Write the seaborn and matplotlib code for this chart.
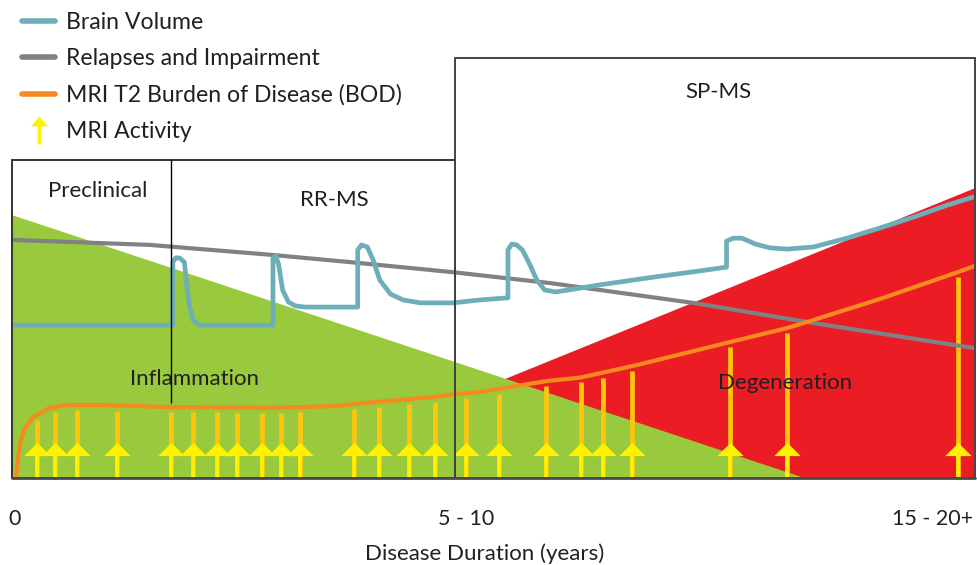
import numpy as np
import pandas as pd
import matplotlib.pyplot as plt
import seaborn as sns
from matplotlib.patches import Polygon, Rectangle
from matplotlib.path import Path
from matplotlib.lines import Line2D

# schematic units: x and y both run 0-100 across the drawing area
relapse_x = [0, 14.3, 27.1, 35.1, 45.8, 55.9, 70.7, 83.2, 100]
relapse_y = [56.7, 55.5, 53.1, 51.4, 49.0, 46.4, 41.7, 36.9, 30.9]

brain_x = [0, 16.7, 16.7, 17.0, 17.4, 17.9, 18.1, 18.4, 18.8, 19.5,
           27.1, 27.1, 27.4, 27.7, 28.1, 28.7, 29.4, 30.4,
           35.9, 35.9, 36.3, 36.9, 37.5, 38.2, 39.3, 40.6, 42.4, 45.8, 48.6,
           51.5, 51.5, 51.9, 52.4, 53.0, 53.8, 54.5, 55.3, 56.4, 57.9, 61.1, 65.9, 71.4,
           74.2, 74.2, 74.9, 75.8, 77.2, 78.7, 80.5, 83.2, 86.7, 90.1, 93.6, 96.9, 99.8]
brain_y = [36.4, 36.4, 51.4, 52.4, 52.4, 51.4, 47.1, 41.2, 37.6, 36.4,
           36.4, 52.4, 52.9, 50.7, 44.8, 41.9, 41.0, 40.7,
           40.7, 54.3, 55.5, 55.0, 51.9, 47.1, 43.8, 42.4, 41.7, 41.7, 42.4,
           42.9, 54.3, 55.7, 55.5, 54.3, 50.7, 47.1, 44.8, 44.3, 44.8, 46.0, 47.6, 49.3,
           50.2, 56.4, 57.1, 57.1, 55.7, 54.8, 54.5, 55.0, 57.1, 59.5, 62.1, 64.8, 66.9]

bod_x = [0.4, 0.6, 0.9, 1.35, 2.2, 3.9, 5.7, 9.1, 16.1, 26.5, 33.3, 36.9, 43.7, 46.2,
         48.6, 55.6, 59.0, 64.9, 74.6, 80.5, 83.2, 90.1, 98.2, 100]
bod_y = [0, 4.3, 9.0, 11.9, 14.5, 16.7, 17.4, 17.4, 16.9, 16.7, 17.1, 17.9, 19.3, 20.0,
         20.5, 23.1, 23.9, 26.9, 32.4, 35.7, 37.6, 42.6, 49.0, 50.5]

activity_x = [2.6, 4.5, 6.75, 10.9, 16.5, 18.8, 21.3, 23.4, 26.0, 27.9, 29.9,
              35.5, 38.1, 41.2, 43.9, 47.1, 50.6, 55.5, 59.1, 61.4, 64.4,
              74.6, 80.5, 98.2]

inflammation_x = [0, 0, 82.3]
inflammation_y = [0, 62.6, 0]
degeneration_x = [25.9, 100, 100]
degeneration_y = [0, 69.0, 0]

tick_pos = [0.3, 47.2, 95.6]
tick_labels = ['0', '5 - 10', '15 - 20+']

c_teal = '#6eaeb8'
c_gray = '#808184'
c_orange = '#f58a1f'
c_gold = '#ffc50d'
c_yellow = '#fff200'
c_green = '#99c93c'
c_red = '#ec1c24'
c_text = '#231f20'

sns.set_theme(style='white')
plt.rcParams['font.family'] = ['Lato', 'DejaVu Sans']

fig = plt.figure(figsize=(9.78, 5.65), dpi=100)
ax = fig.add_axes([12 / 978, 87 / 565, 963 / 978, 420 / 565])
ax.set_xlim(0, 100)
ax.set_ylim(0, 100)
for s in ax.spines.values():
    s.set_visible(False)

# background zones
ax.add_patch(Polygon(np.column_stack([degeneration_x, degeneration_y]), closed=True,
                     facecolor=c_red, edgecolor='none', zorder=1))
ax.add_patch(Polygon(np.column_stack([inflammation_x, inflammation_y]), closed=True,
                     facecolor=c_green, edgecolor='none', zorder=2))

# MRI activity arrows
tops = np.interp(activity_x, bod_x, bod_y) - 1.2
ax.vlines(activity_x, 0, tops, color=c_gold, lw=3.4, zorder=3)
ax.vlines(activity_x, 0, 5.5, color=c_yellow, lw=2.6, zorder=3)
head = Path([(-1, -0.5), (1, -0.5), (0, 0.5), (-1, -0.5)])
ax.plot(activity_x, [6.8] * len(activity_x), linestyle='none', marker=head,
        markersize=19, color=c_yellow, markeredgewidth=0, zorder=4)

# curves
sns.lineplot(x=relapse_x, y=relapse_y, color=c_gray, lw=3, ax=ax,
             estimator=None, sort=False, zorder=5)
sns.lineplot(x=brain_x, y=brain_y, color=c_teal, lw=3.4, ax=ax,
             estimator=None, sort=False, zorder=6)
sns.lineplot(x=bod_x, y=bod_y, color=c_orange, lw=3, ax=ax,
             estimator=None, sort=False, zorder=6)

# stage boxes
ax.add_patch(Rectangle((0, 0), 46.0, 75.7, fill=False, edgecolor='#333333',
                       lw=1.4, zorder=7, clip_on=False))
ax.add_patch(Rectangle((46.0, 0), 54.0, 100, fill=False, edgecolor='#444444',
                       lw=1.4, zorder=7, clip_on=False))
ax.vlines(16.5, 17.9, 75.7, color='black', lw=1, zorder=7)
ax.axhline(0, color='#4a4a4a', lw=2, zorder=7, clip_on=False)

lbl = dict(ha='center', va='center', fontsize=16, color=c_text, zorder=8)
ax.text(8.9, 68.3, 'Preclinical', **lbl)
ax.text(33.5, 66.2, 'RR-MS', **lbl)
ax.text(73.3, 92.0, 'SP-MS', **lbl)
ax.text(19.0, 23.5, 'Inflammation', **lbl)
ax.text(80.3, 22.6, 'Degeneration', **lbl)

ax.set_xticks(tick_pos)
ax.set_xticklabels(tick_labels, fontsize=15.5, color=c_text)
ax.set_yticks([])
ax.tick_params(axis='x', length=0, pad=22)
ax.set_xlabel('Disease Duration (years)', fontsize=16, color=c_text)
ax.xaxis.set_label_coords(0.491, -0.155)

arrow_mark = Path([(-0.12, -1), (0.12, -1), (0.12, 0.3), (0.6, 0.3), (0, 1),
                   (-0.6, 0.3), (-0.12, 0.3), (-0.12, -1)])
handles = [
    Line2D([], [], color=c_teal, lw=4),
    Line2D([], [], color=c_gray, lw=4),
    Line2D([], [], color=c_orange, lw=4),
    Line2D([], [], linestyle='none', marker=arrow_mark, markersize=20,
           color=c_yellow, markeredgewidth=0),
]
labels = ['Brain Volume', 'Relapses and Impairment',
          'MRI T2 Burden of Disease (BOD)', 'MRI Activity']
leg = fig.legend(handles, labels, loc='upper left', bbox_to_anchor=(22 / 978, 1 - 12 / 565),
                 frameon=False, fontsize=16.6, handlelength=1.45, handletextpad=0.48,
                 labelspacing=0.66, borderpad=0, borderaxespad=0)
for t in leg.get_texts():
    t.set_color(c_text)

fig.savefig('out.png', dpi=100)
